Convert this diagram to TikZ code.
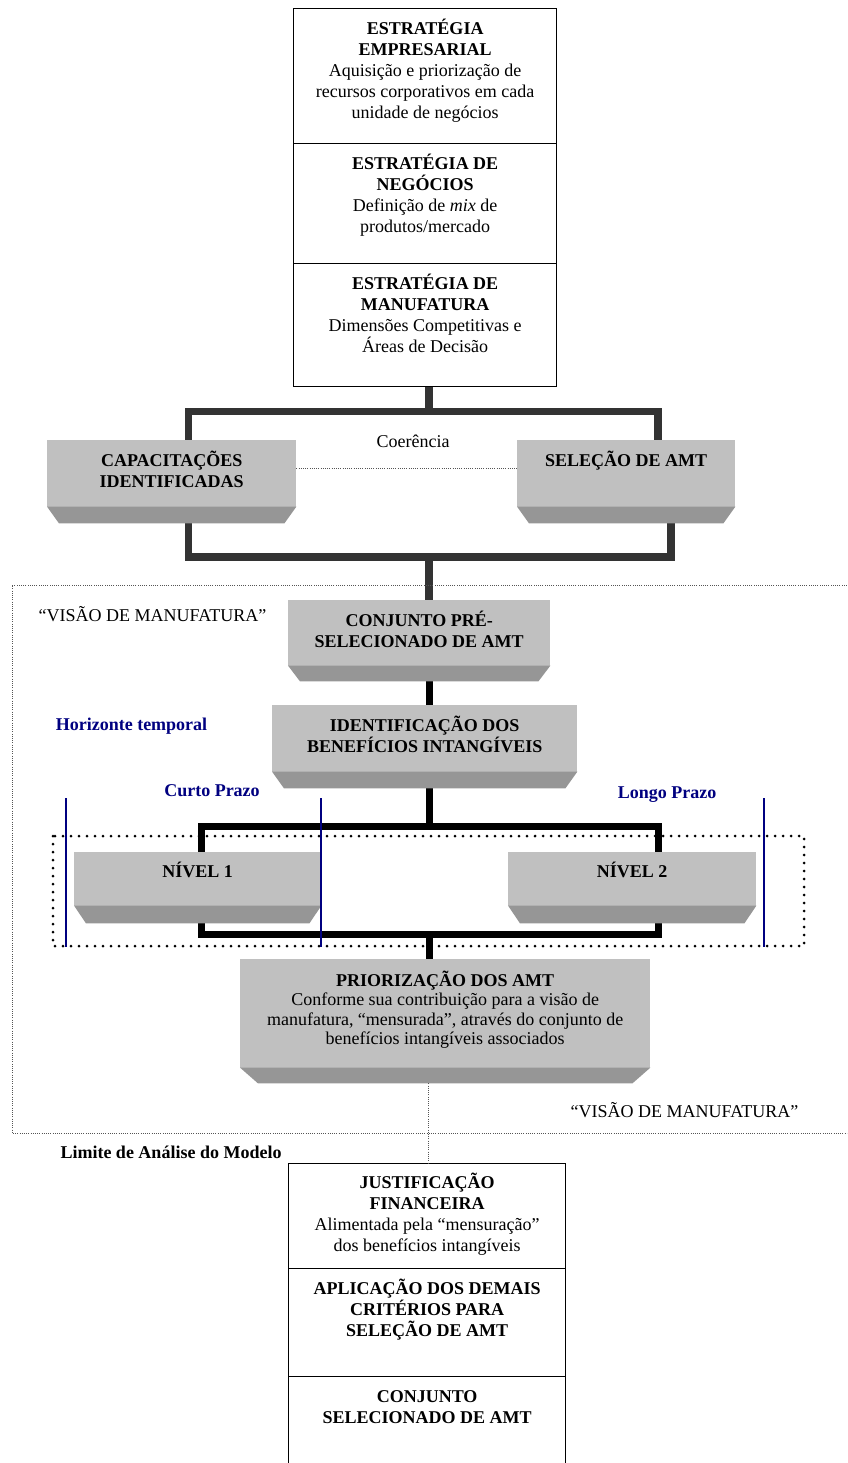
\documentclass[tikz,border=0pt]{standalone}
\usepackage{fontspec}
\setmainfont{Liberation Serif}
\usetikzlibrary{calc,backgrounds}
\definecolor{facegray}{HTML}{C0C0C0}
\definecolor{bevelgray}{HTML}{969696}
\definecolor{navyblue}{HTML}{000080}
\definecolor{bracketgray}{HTML}{333333}
\definecolor{dotgray}{HTML}{555555}
\newcommand\graybevelbox[7]{%
  \node[gface, minimum width=#4pt, minimum height=#5pt] (#1) at (#2,#3) {};
  \fill[bevelgray] ($(#1.south west)+(0,-0.8)$) -- ($(#1.south east)+(0,-0.8)$) -- ($(#1.south east)+(-#7,#6)$) -- ($(#1.south west)+(#7,#6)$) -- cycle;
}
\begin{document}
\begin{tikzpicture}[x=1pt,y=-1pt,
  wbox/.style={draw=black, line width=1.3pt, fill=white, inner sep=0pt, anchor=north west},
  gface/.style={fill=facegray, draw=none, inner sep=0pt, anchor=north west},
  txt/.style={inner sep=0pt, align=center, anchor=north, font=\fontsize{18}{21}\selectfont},
  lbl/.style={inner sep=0pt, anchor=base, font=\fontsize{18}{21}\selectfont},
  bluelbl/.style={inner sep=0pt, anchor=base, text=navyblue, font=\fontsize{18}{21}\selectfont\bfseries},
  trunkg/.style={draw=bracketgray, line width=7.5pt, line join=miter},
  trunkb/.style={draw=black, line width=7pt, line join=miter},
  finedot/.style={draw=dotgray, line width=0.9pt, dash pattern=on 0.9pt off 1.3pt},
  bigdot/.style={draw=black, line width=3pt, line cap=round, dash pattern=on 0pt off 8pt},
  bluerule/.style={draw=navyblue, line width=1.3pt}]
\useasboundingbox (0,0) rectangle (847,1463);
\clip (0,0) rectangle (847,1463);

% ---------- top white stack ----------
\node[wbox, minimum width=263pt, minimum height=135pt] (emp) at (293,8) {};
\node[wbox, minimum width=263pt, minimum height=120pt] (neg) at (293,143) {};
\node[wbox, minimum width=263pt, minimum height=123pt] (man) at (293,263) {};
\node[txt] (emp-t) at ($(emp.north)+(0,8)$) {\rule{0pt}{18pt}\textbf{ESTRATÉGIA}\\\textbf{EMPRESARIAL}\\Aquisição e priorização de\\recursos corporativos em cada\\unidade de negócios};
\node[txt] (neg-t) at ($(neg.north)+(0,8)$) {\rule{0pt}{18pt}\textbf{ESTRATÉGIA DE}\\\textbf{NEGÓCIOS}\\Definição de \textit{mix} de\\produtos/mercado};
\node[txt] (man-t) at ($(man.north)+(0,8)$) {\rule{0pt}{18pt}\textbf{ESTRATÉGIA DE}\\\textbf{MANUFATURA}\\Dimensões Competitivas e\\Áreas de Decisão};

% ---------- gray bevel boxes ----------
\graybevelbox{cap}{47}{440}{249}{67}{16}{12}
\graybevelbox{sel}{517}{440}{218}{67}{16}{12}
\graybevelbox{conj}{288}{600}{262}{66}{15}{12}
\graybevelbox{ident}{272}{705}{305}{67}{16}{12}
\graybevelbox{niv1}{74}{852}{247}{54}{17}{12}
\graybevelbox{niv2}{508}{852}{248}{54}{17}{12}
\graybevelbox{prio}{240}{959}{410}{109}{15}{18}

\node[txt] (cap-t) at ($(cap.north)+(0,8)$) {\rule{0pt}{18pt}\textbf{CAPACITAÇÕES}\\\textbf{IDENTIFICADAS}};
\node[txt] (sel-t) at ($(sel.north)+(0,8)$) {\rule{0pt}{18pt}\textbf{SELEÇÃO DE AMT}};
\node[txt] (conj-t) at ($(conj.north)+(0,8)$) {\rule{0pt}{18pt}\textbf{CONJUNTO PRÉ-}\\\textbf{SELECIONADO DE AMT}};
\node[txt] (ident-t) at ($(ident.north)+(0,8)$) {\rule{0pt}{18pt}\textbf{IDENTIFICAÇÃO DOS}\\\textbf{BENEFÍCIOS INTANGÍVEIS}};
\node[txt] (niv1-t) at ($(niv1.north)+(0,7)$) {\rule{0pt}{18pt}\textbf{NÍVEL 1}};
\node[txt] (niv2-t) at ($(niv2.north)+(0,7)$) {\rule{0pt}{18pt}\textbf{NÍVEL 2}};
\node[txt, font=\fontsize{18}{19.5}\selectfont] (prio-t) at ($(prio.north)+(0,9)$) {\rule{0pt}{18pt}\textbf{PRIORIZAÇÃO DOS AMT}\\Conforme sua contribuição para a visão de\\manufatura, “mensurada”, através do conjunto de\\benefícios intangíveis associados};

% ---------- bottom white stack ----------
\node[wbox, minimum width=277pt, minimum height=105pt] (jus) at (288,1163) {};
\node[wbox, minimum width=277pt, minimum height=108pt] (apl) at (288,1268) {};
\node[wbox, minimum width=277pt, minimum height=95pt] (selc) at (288,1376) {};
\node[txt] (jus-t) at ($(jus.north)+(0,7)$) {\rule{0pt}{18pt}\textbf{JUSTIFICAÇÃO}\\\textbf{FINANCEIRA}\\Alimentada pela “mensuração”\\dos benefícios intangíveis};
\node[txt] (apl-t) at ($(apl.north)+(0,8)$) {\rule{0pt}{18pt}\textbf{APLICAÇÃO DOS DEMAIS}\\\textbf{CRITÉRIOS PARA}\\\textbf{SELEÇÃO DE AMT}};
\node[txt] (selc-t) at ($(selc.north)+(0,8)$) {\rule{0pt}{18pt}\textbf{CONJUNTO}\\\textbf{SELECIONADO DE AMT}};

% ---------- brackets and trunks (behind boxes) ----------
\coordinate (cb) at (429,411.5);
\coordinate (cbb) at (429,557);
\coordinate (nb) at (429,826.5);
\coordinate (nbb) at (429,934);
\begin{pgfonlayer}{background}
  \draw[trunkg] (man.south -| cb) -- (cb);
  \draw[trunkg] (658,470) -- (658,411.5) -- (188.5,411.5) -- (188.5,557) -- (671,557) -- (671,480);
  \draw[trunkg] (cbb) -- (conj.north -| cbb);
  \draw[trunkb] ($(conj.south -| cb)+(0,15)$) -- (ident.north -| cb);
  \draw[trunkb] ($(ident.south -| nb)+(0,16)$) -- (nb);
  \draw[trunkb] (201.5,826.5) rectangle (658.5,934);
  \draw[trunkb] (nbb) -- (prio.north -| nbb);
\end{pgfonlayer}

% ---------- dotted lines ----------
\draw[finedot] ($(cap.east)+(0,-5)$) -- ($(sel.west)+(0,-5)$);
\draw[finedot] (860,585) -- (12,585) -- (12,1133) -- (860,1133);
\coordinate (pd) at ($(prio.south)+(-17,15)$);
\draw[finedot] (pd) -- (jus.north -| pd);
\draw[bigdot] (53,836) rectangle (804,946);

% ---------- blue rules ----------
\draw[bluerule] (66,798) -- (66,947);
\draw[bluerule] (321,798) -- (321,947);
\draw[bluerule] (764,798) -- (764,947);

% ---------- free labels ----------
\node[lbl] (coer) at (413,447) {Coerência};
\node[lbl] (vis1) at (152.5,621) {“VISÃO DE MANUFATURA”};
\node[lbl] (vis2) at (684.5,1117) {“VISÃO DE MANUFATURA”};
\node[bluelbl] (hor) at (131.5,730) {Horizonte temporal};
\node[bluelbl] (curto) at (212,796) {Curto Prazo};
\node[bluelbl] (longo) at (667,798) {Longo Prazo};
\node[lbl, font=\fontsize{18}{21}\selectfont\bfseries] (lim) at (171,1158) {Limite de Análise do Modelo};
\end{tikzpicture}
\end{document}
